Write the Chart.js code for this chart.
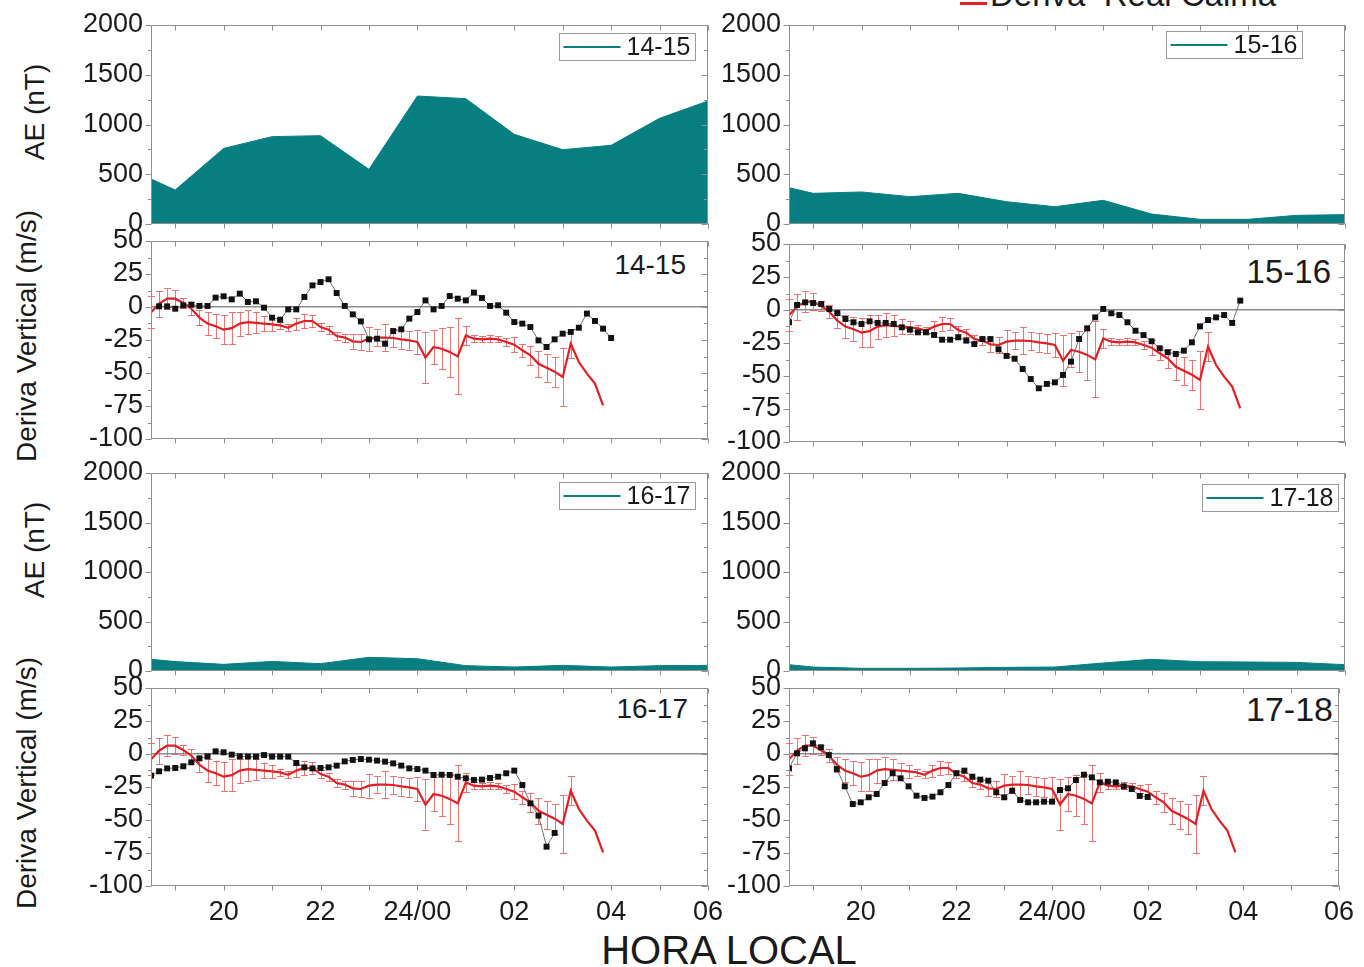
<!DOCTYPE html>
<html>
<head>
<meta charset="utf-8">
<script src="https://cdn.jsdelivr.net/npm/chart.js@4.4.1/dist/chart.umd.min.js"></script>
<style>
  html, body { margin: 0; padding: 0; background: #fff; }
  body { width: 1364px; height: 967px; overflow: hidden; position: relative;
         font-family: "Liberation Sans", Arial, sans-serif; color: #1a1a1a; }
  canvas { position: absolute; }
  .txt { position: absolute; white-space: nowrap; line-height: 1; }
  .ytitle { position: absolute; white-space: nowrap; line-height: 1; font-size: 28px;
            transform: translate(-50%, -50%) rotate(-90deg); }
</style>
</head>
<body>

<div class="txt" style="left:960px; top:2px; width:27px; height:3px; background:#e31e24;"></div>
<div class="txt" style="left:990px; top:-22px; font-size:33px;">Deriva &nbsp;Real Calma</div>

<div class="ytitle" style="left:35px; top:112px;">AE (nT)</div>
<div class="ytitle" style="left:27px; top:336px;">Deriva Vertical (m/s)</div>
<div class="ytitle" style="left:35px; top:550px;">AE (nT)</div>
<div class="ytitle" style="left:27px; top:783px;">Deriva Vertical (m/s)</div>

<div class="txt" style="right:678px; top:251px; font-size:28px;">14-15</div>
<div class="txt" style="right:33px; top:255px; font-size:33px;">15-16</div>
<div class="txt" style="right:676px; top:695px; font-size:28px;">16-17</div>
<div class="txt" style="right:31px; top:692px; font-size:34px;">17-18</div>

<div class="txt" style="left:729px; top:930px; font-size:40px; transform:translateX(-50%);">HORA LOCAL</div>

<script>
// ---- x axis (local time, hours past 24 continue as 25, 26, ...) ----
const hourTicks  = [20, 22, 24, 26, 28, 30];
const hourLabels = ['20', '22', '24/00', '02', '04', '06'];
const hourMarks  = [19, 20, 21, 22, 23, 24, 25, 26, 27, 28, 29, 30];

// ---- y axes ----
const aeTicks      = [0, 500, 1000, 1500, 2000];
const aeMinor      = [250, 750, 1250, 1750];
const driftTicks   = [50, 25, 0, -25, -50, -75, -100];
const driftMinor   = [37.5, 12.5, -12.5, -37.5, -62.5, -87.5];

// ---- AE index (nT), hourly ----
const aeHours = [18.5, 19, 20, 21, 22, 23, 24, 25, 26, 27, 28, 29, 30];
const ae1415  = [452, 342, 760, 878, 888, 549, 1286, 1260, 901, 747, 791, 1062, 1236];
const ae1516  = [365, 308, 322, 275, 308, 224, 174, 238, 100, 47, 47, 87, 94];
const ae1617  = [118, 95, 67, 97, 74, 138, 124, 54, 40, 57, 40, 54, 57];
const ae1718  = [64, 40, 27, 27, 30, 37, 40, 81, 118, 94, 91, 87, 64];

// ---- vertical drift (m/s), 10-minute samples ----
const driftTimes = [
  '18:30','18:40','18:50',
  '19:00','19:10','19:20','19:30','19:40','19:50',
  '20:00','20:10','20:20','20:30','20:40','20:50',
  '21:00','21:10','21:20','21:30','21:40','21:50',
  '22:00','22:10','22:20','22:30','22:40','22:50',
  '23:00','23:10','23:20','23:30','23:40','23:50',
  '24:00','24:10','24:20','24:30','24:40','24:50',
  '25:00','25:10','25:20','25:30','25:40','25:50',
  '26:00','26:10','26:20','26:30','26:40','26:50',
  '27:00','27:10','27:20','27:30','27:40','27:50',
  '28:00'
];

// quiet-time mean drift and its spread
const calma = [
  -4, 2.5, 6.3, 6.3, 3, -1.3, -8, -12.6, -14.6, -17.2,
  -16, -12.6, -11.4, -12, -12.6, -13.1, -13.9, -15.7, -12.6, -10.6,
  -10.6, -15.2, -17.2, -22, -23.2, -26, -26.5, -24, -23.2, -23.2,
  -23.5, -24.5, -25.3, -26.5, -38.4, -30.3, -31.6, -34, -37.4, -21.5,
  -24, -24.5, -24, -24.5, -26.5, -28.5, -32.8, -36.6, -43, -46,
  -49, -53, -27.8, -41.7, -50.5, -58, -74.5, null
];
const calmaErr = [
  12, 10, 7.8, 6.3, 4, 5, 5.5, 8.5, 9, 11,
  12, 9, 9, 8, 5.5, 5, 2.5, 2.5, 4.5, 5.5,
  4.5, 3, 3, 3, 3, 5.7, 6, 9, 6.7, 10,
  7, 7.3, 7, 9, 19.5, 12.6, 15.4, 19, 28.7, 7,
  2.5, 2.3, 2.5, 2.3, 3, 5.4, 5, 7, 10, 10.5,
  11.4, 21.7, 11, null, null, null, null, null
];

// daily drift, one series per night
const drift1415 = [
  null, 0.5, 0.5, -1.3, 1.3, 1.8, 0.8, 0.8, 7.1, 8.1,
  5.8, 10.1, 3.8, 4.3, -0.5, -8.1, -9.6, -1.8, -1.8, 7.6,
  16.4, 18.9, 21, 10.6, 0.8, -5.6, -10.9, -24.5, -24, -27.8,
  -18.2, -16.9, -8.8, -3.8, 5, -1.8, 0.8, 8.3, 6.3, 5,
  10.9, 6.8, 0.8, 1.3, -4.3, -11.4, -12.6, -15.2, -25.3, -30.3,
  -24.5, -20.2, -18.9, -15.7, -5, -10.6, -16.4, -23.5
];
const drift1516 = [
  -9.3, 3.8, 5.8, 5.3, 4.5, 0.8, -2.3, -6.8, -9.3, -10.6,
  -8.6, -9.8, -9.8, -10.6, -13.1, -14.9, -16.9, -16.9, -18.9, -22.5,
  -22.5, -20.7, -23.2, -25.8, -22, -22, -29.8, -34.8, -36.9, -44.7,
  -52.3, -59.3, -56, -54.8, -49.2, -39.1, -22, -13.9, -5.6, 0.8,
  -2.5, -3.8, -9.3, -15.7, -19, -23.7, -29, -32, -33.3, -30.8,
  -24.5, -12.4, -7.6, -5.6, -3.8, -9.8, 7.1, null
];
const drift1617 = [
  -16.4, -13.1, -10.9, -10.6, -9.3, -6.3, -3.3, -1.8, 2.0, 1.3,
  -0.5, -1.8, -2, -2, -0.8, -2, -2, -2, -6.8, -10.1,
  -10.9, -10.6, -10.1, -8.8, -5.6, -4.5, -3.8, -4.3, -5, -5.8,
  -7.1, -8.8, -10.9, -11.4, -12.6, -15.9, -15.7, -15.9, -17.2, -18.4,
  -19.7, -19.4, -18.2, -17.2, -14.6, -12.6, -23.5, -37.4, -46.7, -70.2,
  -59.8, null, null, null, null, null, null, null
];
const drift1718 = [
  -10.9, 0.5, 4.3, 8.1, 5.1, -0.8, -11.4, -24.5, -37.9, -36.6,
  -32.8, -30.3, -22, -14.6, -18.4, -24.5, -31.6, -33.3, -32.3, -29,
  -23.5, -14.6, -12.6, -17.2, -19.4, -20.2, -29, -32.8, -27.8, -34.8,
  -36.6, -36.6, -36.1, -36.1, -27.3, -26, -19.7, -15.7, -17.7, -21.5,
  -21, -21.5, -24.5, -26.5, -31.8, -32.5, null, null, null, null,
  null, null, null, null, null, null, null, null
];

// ---- styling ----
const TEAL = '#077f80';
const RED = '#e31e24';
const FRAME = '#8f8f8f';
const TEXT = '#1a1a1a';
Chart.defaults.font.family = '"Liberation Sans", Arial, sans-serif';
Chart.defaults.color = TEXT;

const toHours = s => { const [h, m] = s.split(':').map(Number); return h + m / 60; };
const driftHours = driftTimes.map(toHours);

function points(xs, ys, errs) {
  const out = [];
  xs.forEach((x, i) => {
    if (ys[i] == null) return;
    const p = { x, y: ys[i] };
    if (errs && errs[i] != null) p.e = errs[i];
    out.push(p);
  });
  return out;
}

// frame on all four sides, outward ticks left/bottom, inward ticks top/right
const frameTicks = {
  id: 'frameTicks',
  afterDraw(chart, args, o) {
    const { ctx, chartArea: a } = chart;
    const xs = chart.scales.x, ys = chart.scales.y;
    const L = Math.round(a.left) + 0.5, R = Math.round(a.right) - 0.5;
    const T = Math.round(a.top) + 0.5, B = Math.round(a.bottom) - 0.5;
    ctx.save();
    ctx.strokeStyle = FRAME;
    ctx.lineWidth = 1;
    ctx.strokeRect(L, T, R - L, B - T);
    ctx.beginPath();
    o.xMarks.forEach(v => {
      const px = Math.round(xs.getPixelForValue(v)) + 0.5;
      ctx.moveTo(px, T); ctx.lineTo(px, T + 5);
      ctx.moveTo(px, B); ctx.lineTo(px, B + 5);
    });
    const yTick = (v, len) => {
      const py = Math.round(ys.getPixelForValue(v)) + 0.5;
      ctx.moveTo(L - len, py); ctx.lineTo(L, py);
      ctx.moveTo(R, py); ctx.lineTo(R - len, py);
    };
    o.yMajor.forEach(v => yTick(v, 6));
    o.yMinor.forEach(v => yTick(v, 3.5));
    ctx.stroke();
    ctx.restore();
  }
};

// vertical error bars for datasets whose points carry an "e" half-width
const errorBars = {
  id: 'errorBars',
  beforeDatasetsDraw(chart) {
    const { ctx } = chart;
    const xs = chart.scales.x, ys = chart.scales.y;
    chart.data.datasets.forEach(ds => {
      if (!ds.withErrors) return;
      ctx.save();
      ctx.strokeStyle = 'rgba(236, 90, 90, 0.85)';
      ctx.lineWidth = 1;
      ctx.beginPath();
      ds.data.forEach(p => {
        if (p.e == null) return;
        const px = Math.round(xs.getPixelForValue(p.x)) + 0.5;
        const top = Math.round(ys.getPixelForValue(p.y + p.e)) + 0.5;
        const bot = Math.round(ys.getPixelForValue(p.y - p.e)) + 0.5;
        ctx.moveTo(px, top); ctx.lineTo(px, bot);
        ctx.moveTo(px - 3.5, top); ctx.lineTo(px + 3.5, top);
        ctx.moveTo(px - 3.5, bot); ctx.lineTo(px + 3.5, bot);
      });
      ctx.stroke();
      ctx.restore();
    });
  }
};

// boxed legend inside the AE panels
const boxLegend = {
  id: 'boxLegend',
  afterDraw(chart, args, o) {
    if (!o.show) return;
    const { ctx, chartArea: a } = chart;
    const right = Math.round(a.right - o.right) + 0.5;
    const top = Math.round(a.top + o.top) + 0.5;
    const w = o.width, h = o.height;
    const left = right - w;
    ctx.save();
    ctx.fillStyle = '#fff';
    ctx.fillRect(left, top, w, h);
    ctx.strokeStyle = '#9a9a9a';
    ctx.lineWidth = 1;
    ctx.strokeRect(left, top, w, h);
    ctx.strokeStyle = TEAL;
    ctx.lineWidth = 2;
    ctx.beginPath();
    ctx.moveTo(left + 4, top + h / 2);
    ctx.lineTo(left + 4 + o.lineLen, top + h / 2);
    ctx.stroke();
    ctx.fillStyle = TEXT;
    ctx.font = '25px "Liberation Sans", Arial, sans-serif';
    ctx.textAlign = 'right';
    ctx.textBaseline = 'middle';
    ctx.fillText(chart.data.datasets[0].label, right - 5, top + h / 2 + 1);
    ctx.restore();
  }
};

const ML = 80, MT = 34;

function panel(p) {
  const mr = p.mr, mb = p.mb;
  const W = ML + (p.x1 - p.x0) + mr;
  const H = MT + (p.y1 - p.y0) + mb;
  const cv = document.createElement('canvas');
  cv.width = W; cv.height = H;
  cv.style.left = (p.x0 - ML) + 'px';
  cv.style.top = (p.y0 - MT) + 'px';
  cv.style.width = W + 'px';
  cv.style.height = H + 'px';
  document.body.appendChild(cv);

  new Chart(cv, {
    type: 'line',
    data: { datasets: p.datasets },
    options: {
      responsive: false,
      animation: false,
      events: [],
      layout: { padding: { left: 0, right: mr, top: MT, bottom: 0 } },
      plugins: {
        legend: { display: false },
        tooltip: { enabled: false },
        frameTicks: { xMarks: hourMarks, yMajor: p.yTicks, yMinor: p.yMinor },
        boxLegend: p.legend || { show: false }
      },
      scales: {
        x: {
          type: 'linear', min: 18.5, max: 30,
          afterFit: s => { s.height = mb; },
          afterBuildTicks: s => { s.ticks = hourTicks.map(v => ({ value: v })); },
          ticks: {
            display: !!p.xLabels, autoSkip: false, maxRotation: 0, minRotation: 0,
            padding: 10, color: TEXT, font: { size: 27 },
            callback: v => hourLabels[hourTicks.indexOf(v)]
          },
          grid: { display: false, drawTicks: false },
          border: { display: false }
        },
        y: {
          type: 'linear', min: p.yMin, max: p.yMax,
          afterFit: s => { s.width = ML; },
          afterBuildTicks: s => { s.ticks = p.yTicks.map(v => ({ value: v })); },
          ticks: { autoSkip: false, padding: 8, color: TEXT, font: { size: 27 },
                   callback: v => String(v) },
          grid: p.zeroLine
            ? { drawTicks: false, lineWidth: 1.5,
                color: c => (c.tick && c.tick.value === 0) ? '#8c8c8c' : 'rgba(0,0,0,0)' }
            : { display: false, drawTicks: false },
          border: { display: false }
        }
      }
    },
    plugins: [errorBars, frameTicks, boxLegend]
  });
}

function aeDataset(label, values) {
  return {
    label,
    data: points(aeHours, values),
    borderColor: TEAL, backgroundColor: TEAL, borderWidth: 1,
    fill: 'origin', pointRadius: 0, tension: 0
  };
}

function driftDatasets(label, values) {
  return [
    {
      label: 'Deriva Real Calma',
      data: points(driftHours, calma, calmaErr),
      withErrors: true,
      borderColor: RED, borderWidth: 2.2, pointRadius: 0, tension: 0,
      fill: false, order: 2
    },
    {
      label,
      data: points(driftHours, values),
      borderColor: '#6f6f6f', borderWidth: 1, tension: 0, fill: false,
      pointStyle: 'rect', pointRadius: 4.2, pointBorderWidth: 0,
      pointBackgroundColor: '#111', order: 1
    }
  ];
}

const LEFT = { x0: 151, x1: 708, mr: 30 };
const RIGHT = { x0: 789, x1: 1345, mr: 19 };
const legendBox = (right, top) => ({ show: true, right, top, width: 136, height: 27, lineLen: 57 });

// row 1
panel({ ...LEFT, y0: 25, y1: 224, mb: 34, yMin: 0, yMax: 2000, yTicks: aeTicks, yMinor: aeMinor,
        datasets: [aeDataset('14-15', ae1415)], legend: legendBox(13, 8) });
panel({ ...RIGHT, y0: 25, y1: 224, mb: 34, yMin: 0, yMax: 2000, yTicks: aeTicks, yMinor: aeMinor,
        datasets: [aeDataset('15-16', ae1516)], legend: legendBox(43, 6) });
panel({ ...LEFT, y0: 241, y1: 439, mb: 34, yMin: -100, yMax: 50, yTicks: driftTicks, yMinor: driftMinor,
        zeroLine: true, datasets: driftDatasets('14-15', drift1415) });
panel({ ...RIGHT, y0: 244, y1: 442, mb: 34, yMin: -100, yMax: 50, yTicks: driftTicks, yMinor: driftMinor,
        zeroLine: true, datasets: driftDatasets('15-16', drift1516) });

// row 2
panel({ ...LEFT, y0: 473, y1: 671, mb: 34, yMin: 0, yMax: 2000, yTicks: aeTicks, yMinor: aeMinor,
        datasets: [aeDataset('16-17', ae1617)], legend: legendBox(13, 9) });
panel({ ...RIGHT, y0: 473, y1: 671, mb: 34, yMin: 0, yMax: 2000, yTicks: aeTicks, yMinor: aeMinor,
        datasets: [aeDataset('17-18', ae1718)], legend: legendBox(7, 11) });
panel({ ...LEFT, y0: 688, y1: 886, mb: 60, xLabels: true, yMin: -100, yMax: 50, yTicks: driftTicks,
        yMinor: driftMinor, zeroLine: true, datasets: driftDatasets('16-17', drift1617) });
panel({ ...RIGHT, y0: 688, y1: 886, mb: 60, xLabels: true, yMin: -100, yMax: 50, yTicks: driftTicks,
        yMinor: driftMinor, zeroLine: true, datasets: driftDatasets('17-18', drift1718) });
</script>
</body>
</html>
